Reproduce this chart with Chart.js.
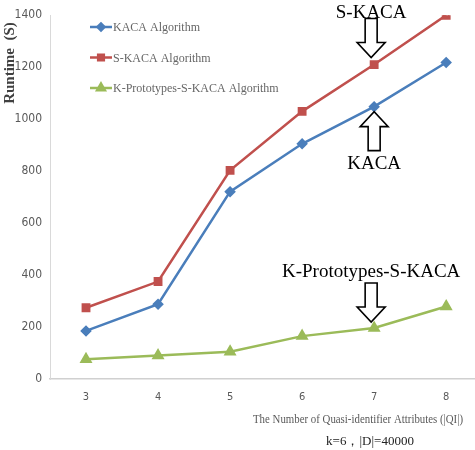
<!DOCTYPE html>
<html>
<head>
<meta charset="utf-8">
<script src="https://cdn.jsdelivr.net/npm/chart.js@4.4.0/dist/chart.umd.min.js"></script>
<style>
  body { margin: 0; background: #fff; }
  #wrap { width: 475px; height: 450px; }
</style>
</head>
<body>
<div id="wrap"><canvas id="chart"></canvas></div>
<script>
const qiCounts = [3, 4, 5, 6, 7, 8];
const kacaTimes = [185, 288, 721, 905, 1048, 1218];
const skacaTimes = [274, 375, 803, 1030, 1210, 1400];
const kprotoTimes = [76, 90, 105, 165, 196, 279];
const seriesNames = ["KACA Algorithm", "S-KACA Algorithm", "K-Prototypes-S-KACA Algorithm"];
const yTicks = [0, 200, 400, 600, 800, 1000, 1200, 1400];

const serif = "'Liberation Serif', 'Times New Roman', serif";
const narrow = "'Liberation Sans Narrow', 'DejaVu Sans Condensed', sans-serif";

function toPoints(vals) {
  return qiCounts.map((q, i) => ({ x: q, y: vals[i] }));
}

// block arrow, tip at (x, tipY), pointing down (dir = 1) or up (dir = -1)
function blockArrow(ctx, x, tipY, dir) {
  const len = 39, head = 15, halfHead = 14, halfShaft = 6;
  const baseY = tipY - dir * len;
  const neckY = tipY - dir * head;
  ctx.beginPath();
  ctx.moveTo(x - halfShaft, baseY);
  ctx.lineTo(x + halfShaft, baseY);
  ctx.lineTo(x + halfShaft, neckY);
  ctx.lineTo(x + halfHead, neckY);
  ctx.lineTo(x, tipY);
  ctx.lineTo(x - halfHead, neckY);
  ctx.lineTo(x - halfShaft, neckY);
  ctx.closePath();
  ctx.fillStyle = "#fff";
  ctx.fill();
  ctx.lineWidth = 1.6;
  ctx.strokeStyle = "#000";
  ctx.stroke();
}

const extras = {
  id: "extras",
  afterDraw(chart) {
    const ctx = chart.ctx;
    const xs = chart.scales.x, ys = chart.scales.y;
    ctx.save();

    // legend inside the plot
    chart.data.datasets.forEach((ds, i) => {
      const y = 27 + i * 30.5;
      ctx.strokeStyle = ds.borderColor;
      ctx.lineWidth = 2.5;
      ctx.beginPath();
      ctx.moveTo(90, y);
      ctx.lineTo(112, y);
      ctx.stroke();
      ctx.fillStyle = ds.backgroundColor;
      ctx.strokeStyle = ds.borderColor;
      Chart.helpers.drawPoint(ctx, {
        pointStyle: ds.pointStyle, radius: ds.pointRadius - 0.5, rotation: 0, borderWidth: 1
      }, 101, y);
      ctx.fillStyle = "#666";
      ctx.font = "12px " + serif;
      ctx.textAlign = "left";
      ctx.textBaseline = "middle";
      ctx.fillText(seriesNames[i], 113, y + 1);
    });

    // y-axis title
    ctx.save();
    ctx.translate(10, 63);
    ctx.rotate(-Math.PI / 2);
    ctx.font = "bold 15px " + serif;
    ctx.fillStyle = "#404040";
    ctx.textAlign = "center";
    ctx.textBaseline = "middle";
    ctx.fillText("Runtime  (S)", 0, 0);
    ctx.restore();

    // x-axis title, condensed
    ctx.save();
    ctx.font = "13px " + serif;
    ctx.fillStyle = "#595959";
    ctx.textBaseline = "middle";
    ctx.textAlign = "left";
    const title = "The Number of Quasi-identifier Attributes (|QI|)";
    const w = ctx.measureText(title).width;
    const target = 210;
    ctx.translate(253, 420);
    ctx.scale(target / w, 1);
    ctx.fillText(title, 0, 0);
    ctx.restore();

    ctx.font = "13px " + serif;
    ctx.fillStyle = "#222";
    ctx.textAlign = "center";
    ctx.textBaseline = "middle";
    ctx.fillText("k=6\uFF0C|D|=40000", 370, 442);

    // callouts at x = 7
    const ax = xs.getPixelForValue(7);
    const iq = qiCounts.indexOf(7);
    ctx.font = "19px " + serif;
    ctx.textAlign = "center";
    ctx.textBaseline = "middle";

    const sTip = ys.getPixelForValue(skacaTimes[iq]) - 7;
    blockArrow(ctx, ax - 3, sTip, 1);
    ctx.fillStyle = "#000";
    ctx.fillText("S-KACA", ax - 3, sTip - 45);

    const kTip = ys.getPixelForValue(kacaTimes[iq]) + 5;
    blockArrow(ctx, ax, kTip, -1);
    ctx.fillStyle = "#000";
    ctx.fillText("KACA", ax, kTip + 52);

    const pTip = ys.getPixelForValue(kprotoTimes[iq]) - 6;
    blockArrow(ctx, ax - 3, pTip, 1);
    ctx.fillStyle = "#000";
    ctx.fillText("K-Prototypes-S-KACA", ax - 3, pTip - 50);

    ctx.restore();
  }
};

new Chart(document.getElementById("chart"), {
  type: "line",
  data: {
    datasets: [
      {
        label: seriesNames[0],
        data: toPoints(kacaTimes),
        borderColor: "#4A7EBB",
        backgroundColor: "#4A7EBB",
        pointStyle: "rectRot",
        pointRadius: 4,
        borderWidth: 2.5
      },
      {
        label: seriesNames[1],
        data: toPoints(skacaTimes),
        borderColor: "#C0504D",
        backgroundColor: "#C0504D",
        pointStyle: "rect",
        pointRadius: 4.5,
        borderWidth: 2.5
      },
      {
        label: seriesNames[2],
        data: toPoints(kprotoTimes),
        borderColor: "#9BBB59",
        backgroundColor: "#9BBB59",
        pointStyle: "triangle",
        pointRadius: 5,
        borderWidth: 2.5
      }
    ]
  },
  options: {
    responsive: true,
    maintainAspectRatio: false,
    animation: false,
    layout: { autoPadding: false, padding: { top: 15, right: 0, left: 0, bottom: 0 } },
    elements: { line: { tension: 0 }, point: { borderWidth: 1 } },
    plugins: { legend: { display: false }, tooltip: { enabled: false } },
    scales: {
      x: {
        type: "linear",
        min: 2.5,
        max: 8.4,
        grid: { display: false, drawTicks: false },
        border: { display: true, color: "#d0d0d0", width: 1.5 },
        afterBuildTicks: (axis) => { axis.ticks = qiCounts.map(v => ({ value: v })); },
        afterFit: (axis) => {
          axis.height = 71;
          axis.paddingLeft = 0;
          axis.paddingRight = 0;
        },
        ticks: {
          color: "#595959",
          font: { family: narrow, size: 11 },
          padding: 12,
          maxRotation: 0
        }
      },
      y: {
        min: 0,
        max: 1400,
        grid: { display: false, drawTicks: false },
        border: { display: true, color: "#d9d9d9", width: 1 },
        afterBuildTicks: (axis) => { axis.ticks = yTicks.map(v => ({ value: v })); },
        afterFit: (axis) => { axis.width = 50; },
        ticks: {
          color: "#595959",
          font: { family: narrow, size: 12 },
          padding: 8,
          callback: (v) => String(v)
        }
      }
    }
  },
  plugins: [extras]
});
</script>
</body>
</html>
